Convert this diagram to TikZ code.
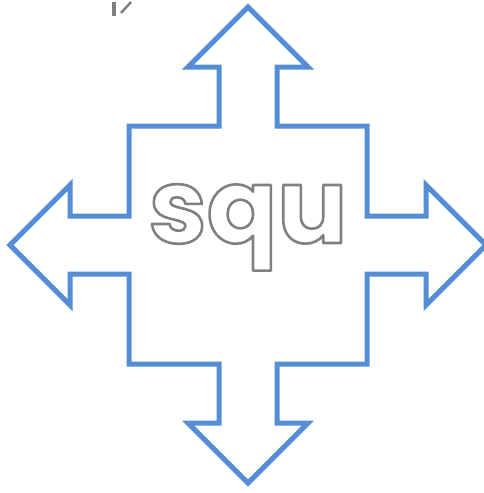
\documentclass[tikz,border=0pt]{standalone}
\usepackage{fontspec}
\setmainfont{Poppins}
\definecolor{arrowblue}{RGB}{85,142,213}
\definecolor{outlinegray}{RGB}{128,128,128}
\newcommand{\strokedtext}[1]{\special{pdf:code q 1 Tr 2.6 w 1 j}#1\special{pdf:code Q}}
\tikzset{
  bigarrow/.style={draw=arrowblue, line width=5pt, line join=miter},
  outlinetext/.style={inner sep=0pt, anchor=base, text=outlinegray, font=\fontsize{104}{104}\selectfont\bfseries}
}
\begin{document}
\begin{tikzpicture}[x=1pt,y=-1pt]
\useasboundingbox (0,0) rectangle (483,493);
\draw[bigarrow] (248,7) -- (308,67) -- (277,67) -- (277,126) -- (367,126) -- (367,216) -- (426,216) -- (426,185) -- (486,245) -- (426,305) -- (426,274) -- (367,274) -- (367,364) -- (277,364) -- (277,423) -- (308,423) -- (248,483) -- (188,423) -- (219,423) -- (219,364) -- (129,364) -- (129,274) -- (70,274) -- (70,305) -- (10,245) -- (70,185) -- (70,216) -- (129,216) -- (129,126) -- (219,126) -- (219,67) -- (188,67) -- cycle;
\node[outlinetext] (word) at (248,243) {\strokedtext{squ}};
\fill[outlinegray] (112,2) rectangle (116,16);
\draw[outlinegray, line width=2.5pt] (121,13) -- (131,2);
\end{tikzpicture}
\end{document}
